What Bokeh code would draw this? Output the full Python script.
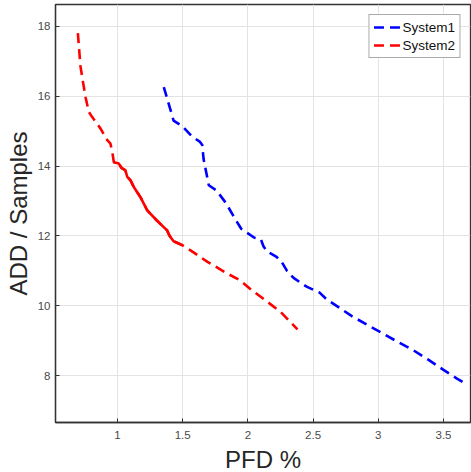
from bokeh.plotting import figure
from bokeh.models import Range1d, FixedTicker, Legend, LegendItem
from bokeh.embed import file_html
from bokeh.resources import INLINE

# ---- data ----
sys1_x = [1.355, 1.43, 1.50, 1.57, 1.63, 1.65, 1.66, 1.70, 1.76, 1.83, 1.90, 1.95, 2.05,
          2.10, 2.12, 2.15, 2.22, 2.26, 2.30, 2.35, 2.45, 2.55, 2.60, 2.70, 2.80, 2.92,
          3.04, 3.15, 3.27, 3.38, 3.50, 3.60, 3.68]
sys1_y = [16.26, 15.30, 15.13, 14.85, 14.70, 14.60, 14.20, 13.45, 13.30, 12.95, 12.50, 12.20, 11.95,
          11.90, 11.70, 11.55, 11.40, 11.25, 11.00, 10.80, 10.55, 10.38, 10.20, 9.95, 9.70, 9.45,
          9.20, 8.97, 8.73, 8.47, 8.17, 7.93, 7.75]

sys2_x = [0.696, 0.716, 0.74, 0.755, 0.78, 0.806, 0.87, 0.92, 0.946, 0.96, 0.972, 1.01, 1.03,
          1.06, 1.075, 1.10, 1.125, 1.176, 1.228, 1.30, 1.38, 1.40, 1.43, 1.50, 1.56, 1.69,
          1.84, 1.94, 2.03, 2.135, 2.25, 2.38]
sys2_y = [17.80, 16.85, 16.30, 15.97, 15.55, 15.40, 15.07, 14.75, 14.64, 14.40, 14.11, 14.07, 13.95,
          13.88, 13.69, 13.59, 13.40, 13.11, 12.73, 12.45, 12.16, 12.00, 11.85, 11.73, 11.59, 11.26,
          10.93, 10.73, 10.45, 10.16, 9.83, 9.33]
# dense (solid-looking) part of System2
sys2_solid_from = 10
sys2_solid_to = 23

x_ticks = [1, 1.5, 2, 2.5, 3, 3.5]
x_tick_labels = ["1", "1.5", "2", "2.5", "3", "3.5"]
y_ticks = [8, 10, 12, 14, 16, 18]
y_tick_labels = ["8", "10", "12", "14", "16", "18"]

series_names = ["System1", "System2"]
series_colors = ["#0000ff", "#ff0000"]

FONT = "Liberation Sans"
AX = "#333333"

p = figure(width=471, height=476, output_backend="svg", toolbar_location=None,
           x_range=Range1d(0.5245, 3.707), y_range=Range1d(6.666, 18.62),
           min_border_left=55, min_border_right=1, min_border_top=4, min_border_bottom=54)

p.outline_line_color = AX
p.outline_line_width = 1.3

for ax, ticks, labels in ((p.xaxis[0], x_ticks, x_tick_labels), (p.yaxis[0], y_ticks, y_tick_labels)):
    ax.ticker = FixedTicker(ticks=ticks)
    ax.major_label_overrides = {t: l for t, l in zip(ticks, labels)}
    ax.major_tick_in = 4
    ax.major_tick_out = 0
    ax.minor_tick_line_color = None
    ax.axis_line_color = AX
    ax.axis_line_width = 1.3
    ax.major_tick_line_color = AX
    ax.major_label_text_font = FONT
    ax.major_label_text_font_size = "11.5px"
    ax.major_label_text_color = "#4a4a4a"
    ax.axis_label_text_font = FONT
    ax.axis_label_text_font_size = "24px"
    ax.axis_label_text_font_style = "normal"
    ax.axis_label_text_color = "#262626"

p.xaxis[0].axis_label = "PFD %"
p.yaxis[0].axis_label = "ADD / Samples"
p.xaxis[0].major_label_standoff = 8
p.yaxis[0].major_label_standoff = 5
p.xaxis[0].axis_label_standoff = 4
p.yaxis[0].axis_label_standoff = 3

p.xgrid.ticker = FixedTicker(ticks=x_ticks)
p.ygrid.ticker = FixedTicker(ticks=y_ticks)
p.grid.grid_line_color = "#e3e3e3"
p.grid.grid_line_width = 1

r1 = p.line(sys1_x, sys1_y, line_color=series_colors[0], line_width=2.6, line_dash="10 6")
r2 = p.line(sys2_x, sys2_y, line_color=series_colors[1], line_width=2.6, line_dash="10 6")
p.line(sys2_x[sys2_solid_from:sys2_solid_to + 1], sys2_y[sys2_solid_from:sys2_solid_to + 1],
       line_color=series_colors[1], line_width=2.6)

legend = Legend(items=[LegendItem(label=series_names[0], renderers=[r1]),
                       LegendItem(label=series_names[1], renderers=[r2])],
                location="top_right", margin=10, padding=4, spacing=2,
                glyph_width=28, glyph_height=16, label_height=16, label_standoff=1,
                label_text_font=FONT, label_text_font_size="13.5px", label_text_color="#111111",
                border_line_color="#555555", border_line_width=1, background_fill_alpha=1)
p.add_layout(legend)

open("out.html", "w").write(file_html(p, INLINE))
